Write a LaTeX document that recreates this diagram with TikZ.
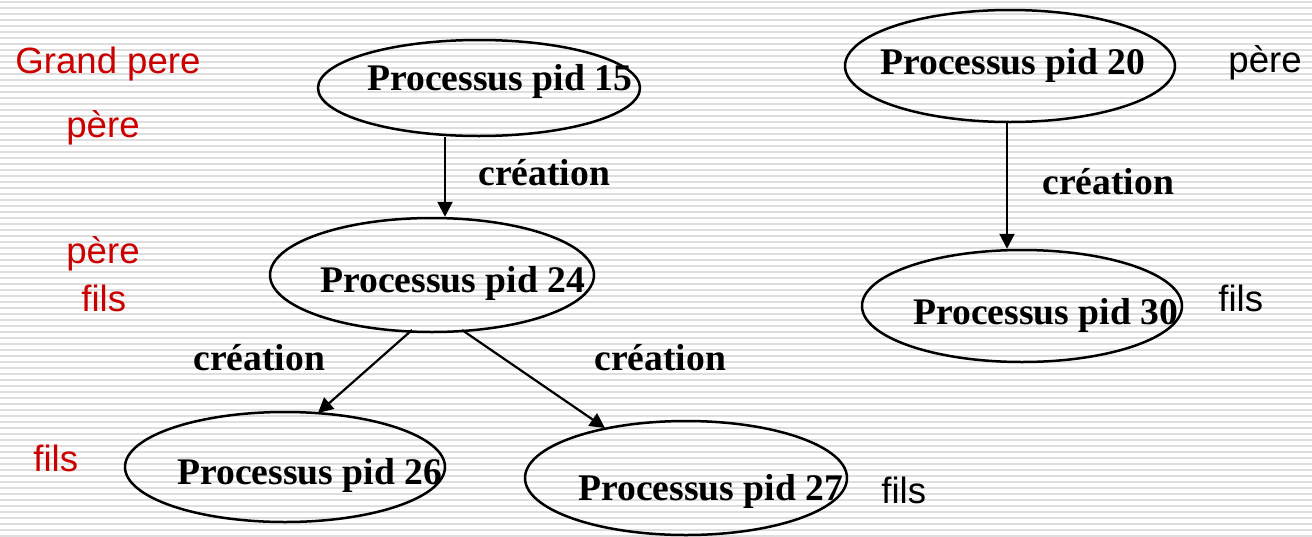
\documentclass[tikz,border=0pt]{standalone}
\usepackage{fontspec}
\setmainfont{Liberation Serif}
\setsansfont{Liberation Sans}
\usetikzlibrary{shapes.geometric,arrows.meta,calc}
\definecolor{stripe}{RGB}{222,222,222}
\definecolor{lblred}{RGB}{204,0,0}
\tikzset{
  proc/.style={draw, ellipse, line width=1.25pt, inner sep=0pt},
  ptext/.style={anchor=base west, inner sep=0pt, font=\bfseries\fontsize{18.8}{22}\selectfont},
  crea/.style={anchor=base west, inner sep=0pt, font=\bfseries\fontsize{18.8}{22}\selectfont},
  rlab/.style={anchor=base west, inner sep=0pt, text=lblred, font=\sffamily\fontsize{18.3}{22}\selectfont},
  blab/.style={anchor=base west, inner sep=0pt, text=black, font=\sffamily\fontsize{18.3}{22}\selectfont},
  arr/.style={line width=1.1pt, -{Triangle[length=7.5pt,width=7.5pt]}}
}
\begin{document}
\begin{tikzpicture}[x=0.5pt,y=-0.5pt]
\useasboundingbox (0,0) rectangle (1312,536);
\fill[white] (0,0) rectangle (1312,536);
\foreach \k in {0,...,89} {
  \draw[stripe, line width=1pt] (0,{2+6*\k}) -- (1312,{2+6*\k});
}
% ellipses
\node[proc, minimum width=161pt, minimum height=48pt] (e15) at (479,88) {};
\node[proc, minimum width=165pt, minimum height=56pt] (e20) at (1010,66) {};
\node[proc, minimum width=162pt, minimum height=57pt] (e24) at (432,275) {};
\node[proc, minimum width=160pt, minimum height=56pt] (e30) at (1022,306) {};
\node[proc, minimum width=160pt, minimum height=55pt] (e26) at (285,467) {};
\node[proc, minimum width=161pt, minimum height=57pt] (e27) at (686,478) {};
% texts
\node[ptext] (t15) at (367,90) {Processus pid 15};
\node[ptext] (t20) at (880,74) {Processus pid 20};
\node[ptext] (t24) at (320,292) {Processus pid 24};
\node[ptext] (t30) at (913,324) {Processus pid 30};
\node[ptext] (t26) at (177,484) {Processus pid 26};
\node[ptext] (t27) at (578,500) {Processus pid 27};
% arrows
\draw[arr] ([xshift=-17pt]e15.south) -- ([xshift=6.5pt]e24.north);
\draw[arr] ([xshift=-1.5pt]e20.south) -- ([xshift=-7.5pt]e30.north);
\draw[arr] ($(e24.center)+(-20,55)$) -- ($(e26.center)+(33,-54)$);
\draw[arr] ($(e24.center)+(30,55)$) -- ($(e27.center)+(-81,-50)$);
% creation labels
\node[crea] (c1) at (478,185) {création};
\node[crea] (c2) at (1042,194) {création};
\node[crea] (c3) at (193,370) {création};
\node[crea] (c4) at (594,370) {création};
% side labels
\node[rlab] (l1) at (15,73) {Grand pere};
\node[rlab] (l2) at (66,137) {père};
\node[rlab] (l3) at (66,263) {père};
\node[rlab] (l4) at (81,311) {fils};
\node[rlab] (l5) at (33,471) {fils};
\node[blab] (l6) at (1228,72) {père};
\node[blab] (l7) at (1218,311) {fils};
\node[blab] (l8) at (881,503) {fils};
\end{tikzpicture}
\end{document}
